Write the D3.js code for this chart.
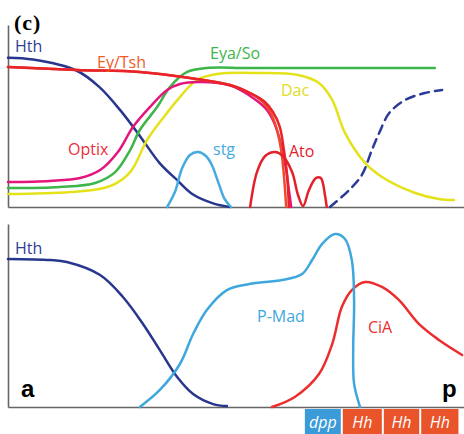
<!DOCTYPE html>
<html>
<head>
<meta charset="utf-8">
<script src="https://cdn.jsdelivr.net/npm/d3@7"></script>
<style>
  body { margin: 0; background: #fff; }
  svg { display: block; }
  .lbl { font-family: 'Open Sans', 'Noto Sans', sans-serif; font-size: 16px; }
</style>
</head>
<body>
<svg width="464" height="434"></svg>
<script>
// positions along the a-p axis (0-100) and expression level (0-100)
const hthTop = [[0,82],[5.5,81],[15,75],[20,66],[25,52],[29.5,37],[33.3,24],[37,15],[40.5,7],[45,2],[48.7,0]];
const ey = [[0,76.9],[15.1,75.3],[28.9,74.2],[39.9,70.9],[48.7,67],[53.1,62.6],[55.7,58.2],[57.5,52.2],[58.8,44],[59.9,31.3],[60.5,17.6],[61,0]];
const tsh = [[0,76.9],[15.1,75.3],[28.9,74.2],[39.9,70.9],[48.7,67],[53.1,62.6],[56.1,58.2],[58.1,52.2],[59.6,44],[60.5,31.3],[61.2,17.6],[61.6,0]];
const optix = [[0,13.7],[9.2,14.3],[15.8,15.9],[20.2,20.3],[24.1,30.2],[27.4,44],[31.1,54.9],[34.9,64.3],[37.7,67.6],[42.1,68.7],[49.1,66.5],[53.1,61],[56.4,54.4],[58.3,46.7],[59.9,34.1],[61,20.3],[61.6,9.3],[62.1,0]];
const eyaSo = [[0,10.4],[11.4,11],[19.1,13.2],[23.5,19.2],[26.8,31.3],[28.9,42.3],[32.7,54.9],[35.5,65.9],[39.3,74.2],[43.6,76.4],[53.1,76.4],[93.6,76.4]];
const dac = [[0,7.1],[13.6,8.2],[22.4,11.5],[26.8,19.2],[30.5,36.8],[34,48.9],[37.7,60.4],[41.4,69.8],[45.8,73.1],[55.3,73.6],[63.6,72.5],[68.2,68.1],[71.1,58.8],[73.9,40.7],[78.3,24.2],[82,16.5],[89.3,7.7],[94.5,4.4],[97.8,3.8]];
const stg = [[34.9,0],[36.6,8.2],[38.2,21.4],[39.9,28.6],[41.7,30.2],[43.4,28],[44.7,23.1],[46.1,13.7],[47.4,4.9],[48.9,0]];
const ato = [[53.1,0],[54.6,19.2],[56.4,28],[58.6,30.2],[60.3,28],[62.3,19.2],[63.6,6.6],[64.7,0.5],[66,9.3],[67.5,15.9],[68.6,15.9],[69.5,6.6],[69.9,0]];
const hthLate = [[70.6,0],[74.8,9.3],[77.6,17.6],[79.8,31.3],[81.4,40.7],[83.6,51.6],[87.1,58.8],[91.4,62.6],[95.2,64.3]];

const hthBottom = [[0,80.9],[9.2,80.3],[12.9,79.2],[20.2,72.1],[25.2,60.1],[29.6,45.4],[33.3,31.1],[37.1,16.4],[40.6,7.1],[45,1.6],[48,0.5]];
const pMad = [[28.9,0],[33.3,9.3],[37.7,23.5],[40.6,39.9],[43.6,53],[48,63.9],[52.9,67.2],[60.1,69.4],[64.5,72.7],[66.7,80.3],[68.9,89.1],[71.7,94.5],[73.9,91.8],[75.4,80.3],[75.9,58.5],[75.7,31.1],[75.9,12.6],[77.2,0]];
const ciA = [[57.9,0],[62.9,5.5],[68.2,18],[71.1,34.4],[73.2,54.6],[75.4,63.9],[78.3,68.3],[82,65.6],[85.7,58.5],[90.1,45.4],[94.5,36.6],[99.6,28.4]];

const domainEdges = [65.1, 73.2, 82.2, 90.4, 99];
const domainLabels = ['dpp', 'Hh', 'Hh', 'Hh'];

const svg = d3.select('svg');

const x = d3.scaleLinear().domain([0, 100]).range([8, 464]);
const yTop = d3.scaleLinear().domain([0, 100]).range([207, 25]);
const yBot = d3.scaleLinear().domain([0, 100]).range([407, 224]);

// axes (just the lines)
function drawAxes(y) {
    svg.append('g')
        .attr('transform', `translate(0,${y.range()[0]})`)
        .call(d3.axisBottom(x).ticks(0).tickSize(0))
        .call(g => g.select('.domain').attr('stroke', '#666').attr('stroke-width', 1.6));
    svg.append('g')
        .attr('transform', `translate(${x.range()[0]},0)`)
        .call(d3.axisLeft(y).ticks(0).tickSize(0))
        .call(g => g.select('.domain').attr('stroke', '#666').attr('stroke-width', 1.6));
}
drawAxes(yTop);
drawAxes(yBot);

function curve(data, y, color, dash) {
    const line = d3.line()
        .x(d => x(d[0]))
        .y(d => y(d[1]))
        .curve(d3.curveCatmullRom.alpha(0.5));
    svg.append('path')
        .datum(data)
        .attr('d', line)
        .attr('fill', 'none')
        .attr('stroke', color)
        .attr('stroke-width', 2.5)
        .attr('stroke-linecap', 'round')
        .attr('stroke-dasharray', dash || null);
}

// top panel
curve(hthTop, yTop, '#28368e');
curve(stg, yTop, '#44aadf');
curve(dac, yTop, '#e4e21b');
curve(eyaSo, yTop, '#3cb54a');
curve(optix, yTop, '#e5157e');
curve(ey, yTop, '#ef4a2e');
curve(tsh, yTop, '#e8232a');
curve(ato, yTop, '#e4202a');
curve(hthLate, yTop, '#2b3a96', '9,6');

// bottom panel
curve(hthBottom, yBot, '#28368e');
curve(ciA, yBot, '#ec2d2d');
curve(pMad, yBot, '#3ea7dd');

// expression domains under the bottom axis
const boxes = svg.append('g');
domainLabels.forEach(function(lab, i) {
    const x0 = x(domainEdges[i]) + (i > 0 ? 1 : 0);
    const x1 = x(domainEdges[i + 1]) - 1;
    boxes.append('rect')
        .attr('x', x0)
        .attr('y', 409)
        .attr('width', x1 - x0)
        .attr('height', 25)
        .attr('fill', lab === 'dpp' ? '#3a9bd8' : '#e9542a');
    boxes.append('text')
        .attr('class', 'lbl')
        .attr('x', (x0 + x1) / 2)
        .attr('y', 428)
        .attr('text-anchor', 'middle')
        .style('font-style', 'italic')
        .style('font-size', '16px')
        .attr('fill', '#fff')
        .text(lab);
});

// labels
const labels = [
    ['Hth', 15, 52, '#2e3d97'],
    ['Ey/Tsh', 97, 68, '#f05a28'],
    ['Eya/So', 210, 59, '#3cb54a'],
    ['Dac', 281, 96, '#e2dc1e'],
    ['Optix', 68, 155, '#ec2d3c'],
    ['stg', 213, 155, '#44aadf'],
    ['Ato', 289, 157, '#e4202a'],
    ['Hth', 15, 254, '#2e3d97'],
    ['P-Mad', 257, 322, '#3ea7dd'],
    ['CiA', 368, 333, '#ec2d2d']
];
labels.forEach(function(d) {
    svg.append('text')
        .attr('class', 'lbl')
        .attr('x', d[1])
        .attr('y', d[2])
        .attr('fill', d[3])
        .text(d[0]);
});

svg.append('text')
    .attr('x', 14)
    .attr('y', 30)
    .style('font-family', "'Liberation Serif', 'DejaVu Serif', serif")
    .style('font-weight', 'bold')
    .style('font-size', '22px')
    .style('letter-spacing', '1px')
    .text('(c)');

svg.append('text')
    .attr('x', 21)
    .attr('y', 397)
    .style('font-family', "'Liberation Sans', Arial, sans-serif")
    .style('font-weight', 'bold')
    .style('font-size', '24px')
    .text('a');

svg.append('text')
    .attr('x', 442)
    .attr('y', 397)
    .style('font-family', "'Liberation Sans', Arial, sans-serif")
    .style('font-weight', 'bold')
    .style('font-size', '24px')
    .text('p');
</script>
</body>
</html>
